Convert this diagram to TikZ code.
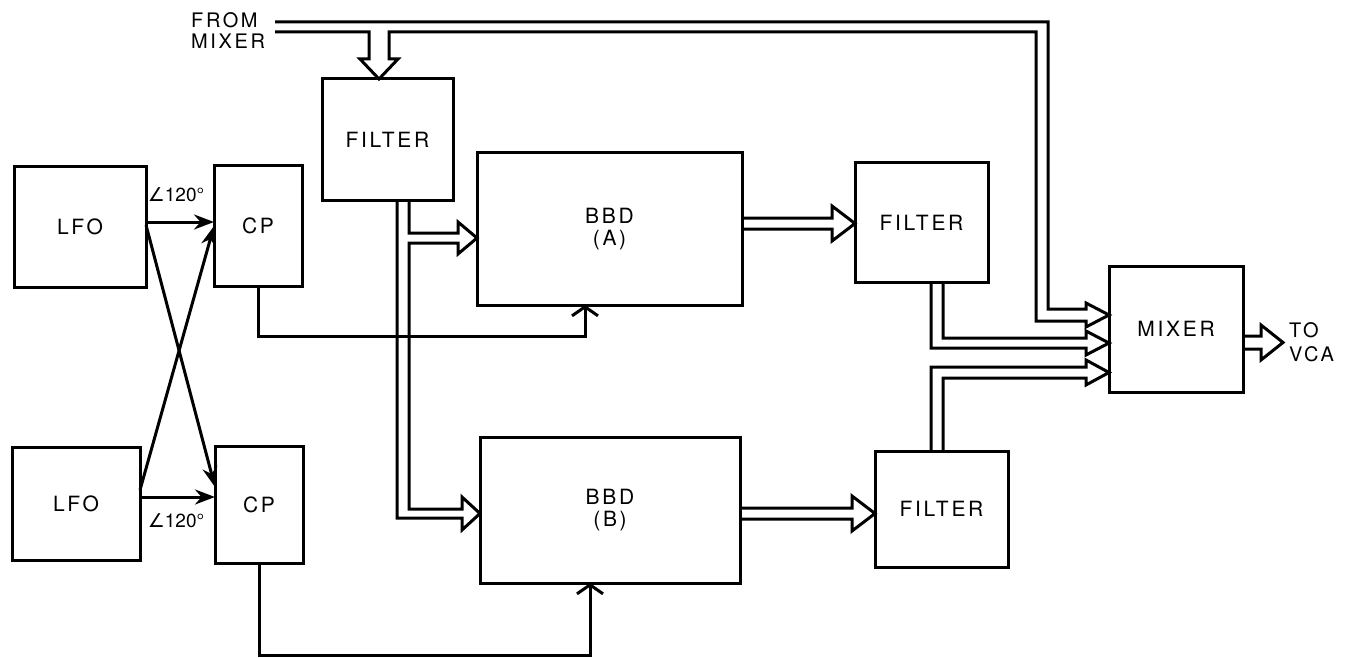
\documentclass[tikz,border=0pt]{standalone}
\usepackage{fontspec}
\setmainfont{TeX Gyre Heros}
\newfontfamily\lbl[LetterSpace=13]{TeX Gyre Heros}
\newfontfamily\dejavu{DejaVu Sans}
\usetikzlibrary{arrows.meta}
\begin{document}
\begin{tikzpicture}[x=1pt,y=-1pt,
  ln/.style={line width=3pt, line join=miter},
  box/.style={ln, draw, rectangle, inner sep=0pt, outer sep=0pt, anchor=north west,
    font=\lbl\fontsize{21}{22}\selectfont, align=center},
  pipe/.style={ln, draw},
  sig/.style={ln, -{Stealth[length=20pt,width=15pt]}},
  barb/.style={ln, -{Straight Barb[length=9pt,width=26pt]}},
  lab/.style={inner sep=0pt, font=\fontsize{19}{20}\selectfont},
  txt/.style={inner sep=0pt, font=\lbl\fontsize{20}{21}\selectfont, align=left, anchor=west}
]
\useasboundingbox (0,0) rectangle (1355,658);

% boxes
\node[box, minimum width=132pt, minimum height=120pt] (lfoA) at (14,167) {LFO};
\node[box, minimum width=128pt, minimum height=113pt] (lfoB) at (12,447) {LFO};
\node[box, minimum width=88pt, minimum height=120pt] (cpA) at (214,166) {CP};
\node[box, minimum width=88pt, minimum height=117pt] (cpB) at (215,446) {CP};
\node[box, minimum width=131pt, minimum height=121pt] (filt1) at (322,79) {FILTER};
\node[box, minimum width=265pt, minimum height=152pt] (bbdA) at (477,153) {BBD\\(A)};
\node[box, minimum width=260pt, minimum height=146pt] (bbdB) at (480,437) {BBD\\(B)};
\node[box, minimum width=133pt, minimum height=119pt] (filt2) at (855,163) {FILTER};
\node[box, minimum width=133pt, minimum height=116pt] (filt3) at (875,451) {FILTER};
\node[box, minimum width=134pt, minimum height=126pt] (mixer) at (1109,266) {\raisebox{-9pt}{MIXER}};

% texts
\node[txt] (from) at (191,31) {FROM\\MIXER};
\node[txt, font=\lbl\fontsize{20}{24}\selectfont] (tovca) at (1289,342) {TO\\VCA};
\node[lab] (angA) at (176,195) {{\dejavu ∠}120°};
\node[lab] (angB) at (176,521) {{\dejavu ∠}120°};

% LFO -> CP
\draw[sig] (lfoA.east |- 0,222) -- (cpA.west |- 0,222);
\draw[sig] (lfoB.east |- 0,497) -- (cpB.west |- 0,497);
\draw[sig] (lfoA.east |- 0,225) -- (cpB.west |- 0,487);
\draw[sig] (lfoB.east |- 0,490) -- (cpA.west |- 0,226);

% CP -> BBD clock
\draw[barb] (cpA.south) |- (585,336) -- (bbdA.south -| 585,0);
\draw[barb] (cpB.south) |- (590,655.5) -- (bbdB.south -| 590,0);

% from mixer bus -> filter and mixer
\draw[pipe] (275,22) -- (1048,22) -- (1048,309) -- (1086,309) -- (1086,303)
  -- (mixer.west |- 0,315) -- (1086,327) -- (1086,321) -- (1036,321) -- (1036,32)
  -- (389,32) -- (389,59) -- (398,59) -- (filt1.north -| 379,0) -- (360,59)
  -- (369,59) -- (369,32) -- (275,32);

% filter -> BBD A and BBD B
\draw[pipe] (filt1.south -| 409,0) -- (409,233) -- (458,233) -- (458,222)
  -- (bbdA.west |- 0,238) -- (458,254) -- (458,243) -- (409,243) -- (409,509)
  -- (462,509) -- (462,497) -- (bbdB.west |- 0,513.5) -- (462,530) -- (462,518)
  -- (397,518) -- (filt1.south -| 397,0);

% BBD -> filters
\draw[pipe] (bbdA.east |- 0,218) -- (832,218) -- (832,206) -- (filt2.west |- 0,223.5)
  -- (832,241) -- (832,229) -- (bbdA.east |- 0,229);
\draw[pipe] (bbdB.east |- 0,508) -- (852,508) -- (852,496) -- (filt3.west |- 0,513.5)
  -- (852,531) -- (852,519) -- (bbdB.east |- 0,519);

% filters -> mixer
\draw[pipe] (filt2.south -| 943,0) -- (943,338) -- (1086,338) -- (1086,331)
  -- (mixer.west |- 0,343) -- (1086,355) -- (1086,348) -- (931,348) -- (filt2.south -| 931,0);
\draw[pipe] (filt3.north -| 931,0) -- (931,367) -- (1086,367) -- (1086,360)
  -- (mixer.west |- 0,372.5) -- (1086,385) -- (1086,378) -- (943,378) -- (filt3.north -| 943,0);

% mixer -> VCA
\draw[pipe] (mixer.east |- 0,336) -- (1261,336) -- (1261,325) -- (1283,342.5)
  -- (1261,360) -- (1261,349) -- (mixer.east |- 0,349);
\end{tikzpicture}
\end{document}
